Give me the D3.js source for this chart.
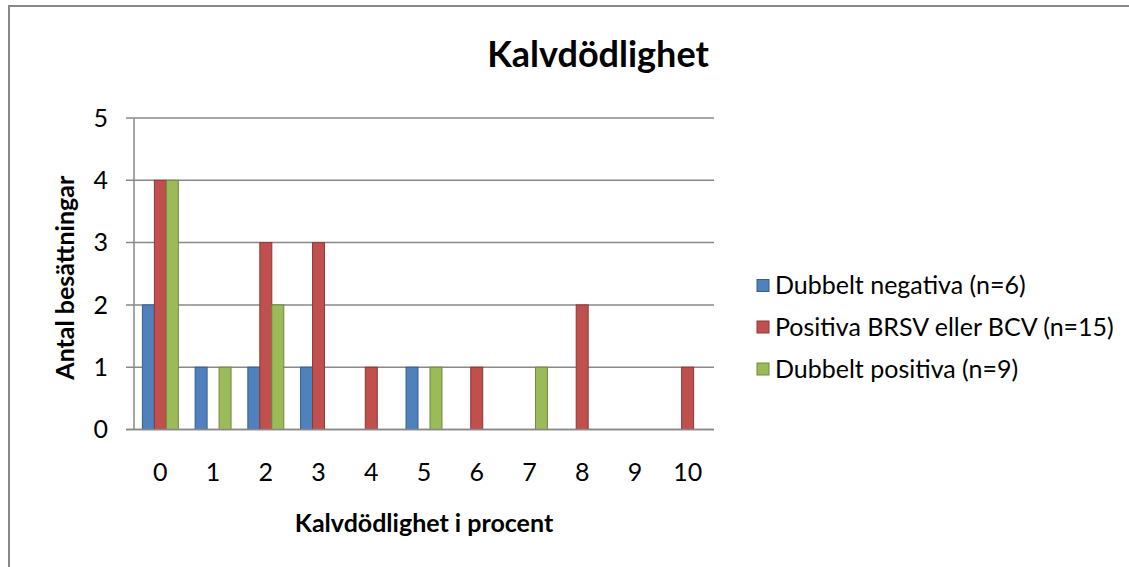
<html>
<head>
<meta charset="utf-8">
<script src="https://d3js.org/d3.v7.min.js"></script>
<style>
  body { margin: 0; background: #fff; }
  text { font-family: Lato, "Open Sans", sans-serif; fill: #000; }
</style>
</head>
<body>
<svg id="chart" width="1129" height="567"></svg>
<script>
const categories = ['0', '1', '2', '3', '4', '5', '6', '7', '8', '9', '10'];
const seriesNames = ['Dubbelt negativa (n=6)', 'Positiva BRSV eller BCV (n=15)', 'Dubbelt positiva (n=9)'];
const negativa = [2, 1, 1, 1, 0, 1, 0, 0, 0, 0, 0];
const positivaEn = [4, 0, 3, 3, 1, 0, 1, 0, 2, 0, 1];
const positivaBada = [4, 1, 2, 0, 0, 1, 0, 1, 0, 0, 0];
const yTicks = [0, 1, 2, 3, 4, 5];

const fills = ['#4F81BD', '#C0504D', '#9BBB59'];
const strokes = ['#385D8A', '#8C3836', '#71893F'];
const allSeries = [negativa, positivaEn, positivaBada];

const svg = d3.select('#chart');
const plotL = 134, plotR = 714, plotT = 118, plotB = 429.5;

// outer frame (only top and left edges visible)
svg.append('rect')
  .attr('x', 9).attr('y', 6)
  .attr('width', 1140).attr('height', 600)
  .attr('fill', 'none').attr('stroke', '#898989').attr('stroke-width', 2);

const x0 = d3.scaleBand().domain(categories).range([plotL, plotR]);
const x1 = d3.scaleBand().domain(d3.range(3)).range([0, x0.bandwidth()]).paddingOuter(0.7);
const y = d3.scaleLinear().domain([0, 5]).range([plotB, plotT]);

// gridlines + tick marks
svg.append('g').selectAll('line').data(yTicks).join('line')
  .attr('x1', plotL - 8).attr('x2', plotR)
  .attr('y1', d => y(d)).attr('y2', d => y(d))
  .attr('stroke', '#898989').attr('stroke-width', 1.5);

// y axis line
svg.append('line')
  .attr('x1', plotL).attr('x2', plotL).attr('y1', plotT).attr('y2', plotB)
  .attr('stroke', '#898989').attr('stroke-width', 1.5);

// y tick labels
svg.append('g').selectAll('text').data(yTicks).join('text')
  .attr('x', 108).attr('y', d => y(d))
  .attr('dy', '0.35em').attr('text-anchor', 'end')
  .style('font-size', '25px')
  .text(d => d);

// bars
allSeries.forEach((vals, s) => {
  const rows = vals.map((v, i) => ({cat: categories[i], v: v})).filter(d => d.v > 0);
  svg.append('g').selectAll('rect').data(rows).join('rect')
    .attr('x', d => x0(d.cat) + x1(s))
    .attr('y', d => y(d.v))
    .attr('width', x1.bandwidth())
    .attr('height', d => y(0) - y(d.v))
    .attr('fill', fills[s]).attr('stroke', strokes[s]).attr('stroke-width', 1);
});

// redraw baseline on top
svg.append('line')
  .attr('x1', plotL - 8).attr('x2', plotR).attr('y1', y(0)).attr('y2', y(0))
  .attr('stroke', '#898989').attr('stroke-width', 1.5);

// x tick labels
svg.append('g').selectAll('text').data(categories).join('text')
  .attr('x', d => x0(d) + x0.bandwidth() / 2).attr('y', 472)
  .attr('dy', '0.35em').attr('text-anchor', 'middle')
  .style('font-size', '25px')
  .text(d => d);

// titles
svg.append('text')
  .attr('x', 598).attr('y', 67).attr('text-anchor', 'middle')
  .style('font-size', '36px').style('font-weight', 'bold')
  .text('Kalvdödlighet');

svg.append('text')
  .attr('x', (plotL + plotR) / 2).attr('y', 532).attr('text-anchor', 'middle')
  .style('font-size', '25px').style('font-weight', 'bold')
  .text('Kalvdödlighet i procent');

svg.append('text')
  .attr('transform', 'translate(74,' + ((plotT + plotB) / 2 + 4) + ') rotate(-90)')
  .attr('text-anchor', 'middle')
  .style('font-size', '25px').style('font-weight', 'bold')
  .text('Antal besättningar');

// legend
const legendY = [285.5, 327, 369];
const legend = svg.append('g').selectAll('g').data(seriesNames).join('g')
  .attr('transform', (d, i) => 'translate(757,' + legendY[i] + ')');
legend.append('rect')
  .attr('x', 0).attr('y', -6).attr('width', 12).attr('height', 12)
  .attr('fill', (d, i) => fills[i]).attr('stroke', (d, i) => strokes[i]).attr('stroke-width', 1);
legend.append('text')
  .attr('x', 18).attr('y', 0).attr('dy', '0.35em')
  .style('font-size', '25px')
  .text(d => d);
</script>
</body>
</html>
